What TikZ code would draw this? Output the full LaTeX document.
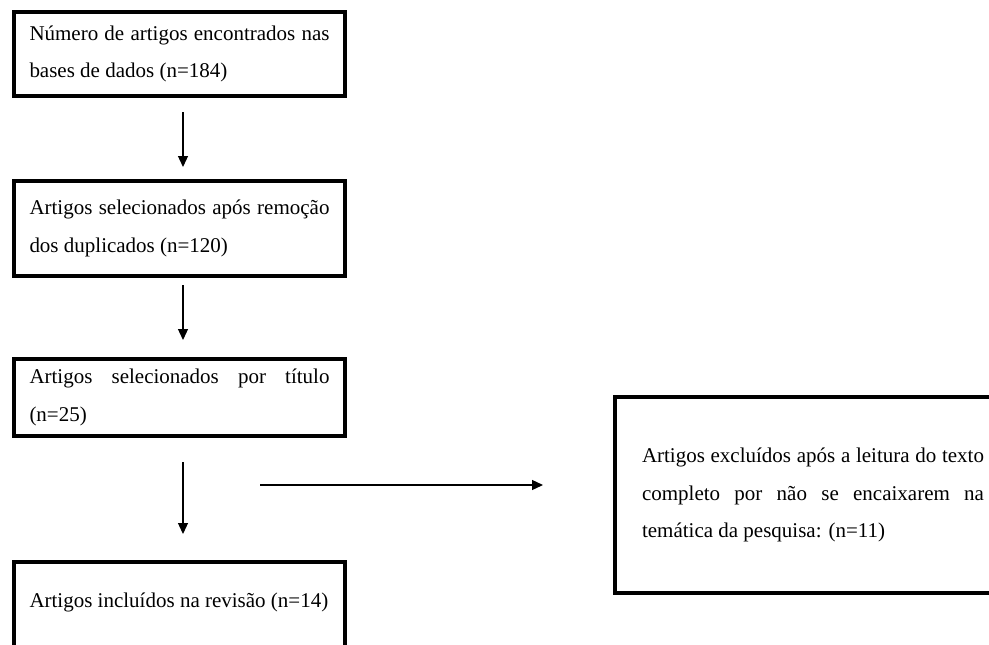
\documentclass[tikz,border=0pt]{standalone}
\usepackage{fontspec}
\setmainfont{Liberation Serif}
\usetikzlibrary{arrows.meta}
\newcommand{\fonteetapa}{\fontsize{21}{37.5}\selectfont\hyphenpenalty=10000\relax\tolerance=10000\relax}
\tikzset{
  etapa/.style={draw, line width=4pt, minimum width=331pt, text width=300pt,
    align=justify, inner sep=0pt, font=\fonteetapa},
  seta/.style={line width=1.3pt, -{Triangle[length=11pt,width=10pt]}},
}
\begin{document}
\begin{tikzpicture}[x=1pt,y=-1pt]
    \useasboundingbox (0,0) rectangle (989,645);
    % identificacao
    \node[etapa, minimum height=84pt] (busca) at (179.5,54)
        {Número de artigos encontrados nas bases de dados (n=184)};
    % duplicados
    \node[etapa, minimum height=95pt] (duplicados) at (179.5,228.5)
        {Artigos selecionados após remoção dos duplicados (n=120)};
    % titulo
    \node[etapa, minimum height=77pt] (titulo) at (179.5,397.5)
        {Artigos selecionados por título (n=25)};
    % incluidos
    \node[etapa, anchor=north, text height=45pt, text depth=60pt] (incluidos) at (179.5,560)
        {Artigos incluídos na revisão (n=14)};
    % excluidos
    \node[etapa, minimum width=396pt, minimum height=196pt, text width=342pt] (excluidos) at (813,495)
        {Artigos excluídos após a leitura do texto completo por não se encaixarem na temática da pesquisa: (n=11)};
    % setas
    \draw[seta, shorten <=14pt, shorten >=12pt] ([xshift=3.5pt]busca.south) -- ([xshift=3.5pt]duplicados.north);
    \draw[seta, shorten <=7pt, shorten >=17pt] ([xshift=3.5pt]duplicados.south) -- ([xshift=3.5pt]titulo.north);
    \draw[seta, shorten <=24pt, shorten >=26pt] ([xshift=3.5pt]titulo.south) -- ([xshift=3.5pt]incluidos.north);
    \coordinate (saida) at (260,485);
    \draw[seta, shorten >=70pt] (saida) -- (saida -| excluidos.west);
\end{tikzpicture}
\end{document}
